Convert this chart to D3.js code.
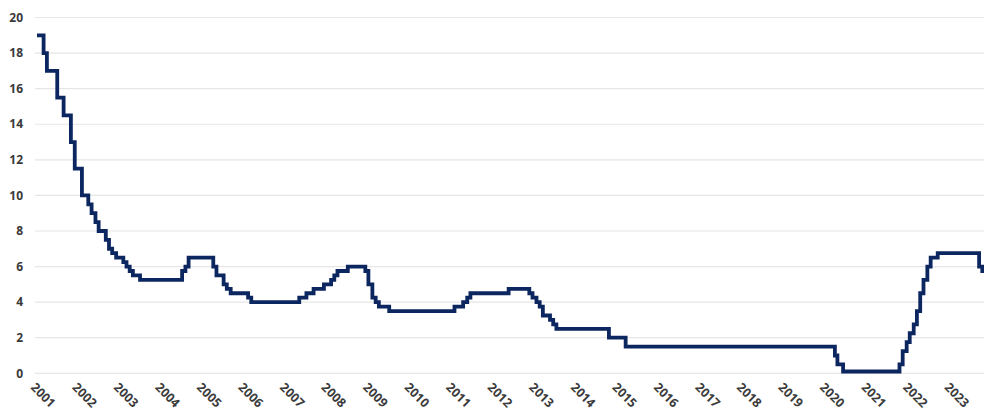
<!DOCTYPE html>
<html><head><meta charset="utf-8">
<script src="https://cdn.jsdelivr.net/npm/d3@7"></script>
<style>
html,body{margin:0;padding:0;background:#fff;}
svg{display:block;}
text{font-family:"Open Sans","Liberation Sans",sans-serif;font-weight:700;fill:#3a3a3a;font-size:12px;}
</style></head>
<body>
<svg id="c" width="984" height="414"></svg>
<script>
// Poland NBP reference rate (%), change dates
const changeDates = ["2001-01-01","2001-02-28","2001-03-29","2001-06-28","2001-08-23","2001-10-26","2001-11-29",
"2002-01-31","2002-03-28","2002-04-26","2002-05-30","2002-06-27","2002-08-29","2002-09-26","2002-10-24","2002-11-28",
"2003-01-30","2003-02-27","2003-03-27","2003-04-24","2003-05-29","2003-06-26",
"2004-06-30","2004-07-29","2004-08-26",
"2005-03-31","2005-04-28","2005-06-30","2005-07-28","2005-08-31",
"2006-01-31","2006-02-28",
"2007-04-26","2007-06-28","2007-08-30","2007-11-29",
"2008-01-31","2008-02-28","2008-03-27","2008-06-26","2008-11-27","2008-12-24",
"2009-01-28","2009-02-26","2009-03-26","2009-06-25",
"2011-01-20","2011-04-06","2011-05-12","2011-06-09",
"2012-05-10","2012-11-08","2012-12-06",
"2013-01-10","2013-02-07","2013-03-07","2013-05-09","2013-06-06","2013-07-04",
"2014-10-09","2015-03-05",
"2020-03-18","2020-04-09","2020-05-29",
"2021-10-07","2021-11-04","2021-12-09",
"2022-01-05","2022-02-09","2022-03-09","2022-04-07","2022-05-06","2022-06-09","2022-07-08","2022-09-08",
"2023-09-07","2023-10-05","2023-10-20"];
const rates = [19,18,17,15.5,14.5,13,11.5,
10,9.5,9,8.5,8,7.5,7,6.75,6.5,
6.25,6,5.75,5.5,5.5,5.25,
5.75,6,6.5,
6,5.5,5,4.75,4.5,
4.25,4,
4.25,4.5,4.75,5,
5.25,5.5,5.75,6,5.75,5,
4.25,4,3.75,3.5,
3.75,4,4.25,4.5,
4.75,4.5,4.25,
4,3.75,3.25,3,2.75,2.5,
2,1.5,
1,0.5,0.1,
0.5,1.25,1.75,
2.25,2.75,3.5,4.5,5.25,6,6.5,6.75,
6,5.75,5.75];
const yTicks = [0,2,4,6,8,10,12,14,16,18,20];
const yearLabels = ["2001","2002","2003","2004","2005","2006","2007","2008","2009","2010","2011","2012",
"2013","2014","2015","2016","2017","2018","2019","2020","2021","2022","2023"];

const parse = d3.timeParse("%Y-%m-%d");
const data = changeDates.map((d,i)=>({date:parse(d), v:rates[i]}));

const svg = d3.select("#c");
const x = d3.scaleTime().domain([parse("2001-01-01"), parse("2023-10-20")]).range([37, 984]);
const y = d3.scaleLinear().domain([0,20]).range([373.3, 17.5]);

// gridlines
svg.append("g").selectAll("line").data(yTicks).join("line")
  .attr("x1",35).attr("x2",984)
  .attr("y1",d=>y(d)).attr("y2",d=>y(d))
  .attr("stroke","#e6e6e6").attr("stroke-width",1.2);

// y labels
svg.append("g").selectAll("text").data(yTicks).join("text")
  .attr("x",23).attr("y",d=>y(d)).attr("dy","0.35em")
  .attr("text-anchor","end").text(d=>d);

// x labels
svg.append("g").selectAll("text").data(yearLabels).join("text")
  .attr("transform",d=>`translate(${x(parse(d+"-01-01"))-4},${385}) rotate(45)`)
  .attr("dy","0.35em").style("font-size","12.5px")
  .attr("text-anchor","start").text(d=>d);

// line
const line = d3.line().x(d=>x(d.date)).y(d=>y(d.v)).curve(d3.curveStepAfter);
svg.append("path").datum(data).attr("d",line)
  .attr("fill","none").attr("stroke","#0c2660").attr("stroke-width",3.8)
  .attr("stroke-linejoin","miter");
</script>
</body></html>
